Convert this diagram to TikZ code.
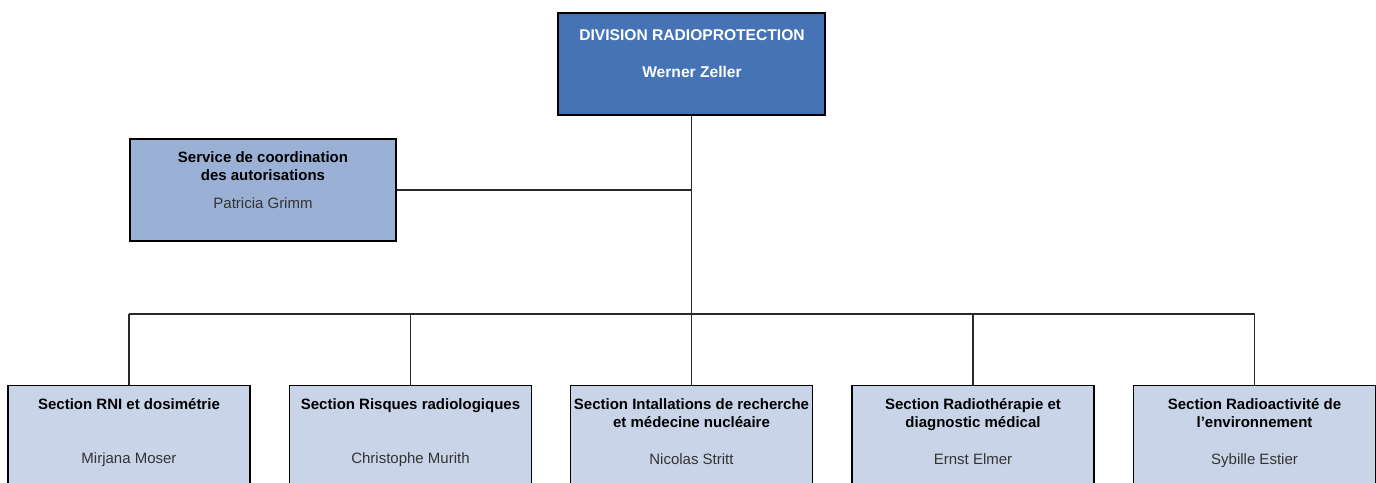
\documentclass[tikz,border=0pt]{standalone}
\usepackage{fontspec}
\setmainfont{Liberation Sans}
\definecolor{topblue}{RGB}{69,115,181}
\definecolor{midblue}{RGB}{155,176,213}
\definecolor{lightblue}{RGB}{201,212,232}
\definecolor{linegray}{RGB}{40,40,40}
\begin{document}
\begin{tikzpicture}[x=1pt,y=-1pt,
  box/.style={draw=black, line width=1.2pt, rectangle, inner sep=0pt},
  topbox/.style={box, fill=topblue, minimum width=267pt, minimum height=102pt},
  svcbox/.style={box, fill=midblue, minimum width=266pt, minimum height=102pt},
  secbox/.style={box, fill=lightblue, minimum width=242pt, minimum height=140pt, anchor=north},
  ttl/.style={font=\fontsize{15}{18}\selectfont\bfseries, inner sep=0pt, anchor=base},
  bigttl/.style={font=\fontsize{15.6}{18}\selectfont\bfseries, inner sep=0pt, anchor=base, text=white},
  nm/.style={font=\fontsize{15}{18}\selectfont, text=black!80, inner sep=0pt, anchor=base},
  conn/.style={draw=linegray, line width=1.2pt}
]
\clip (0,0) rectangle (1376,482);
\fill[white] (0,0) rectangle (1376,482);

% top box
\node[topbox] (div) at (691.5,64) {};
\node[bigttl] (divt) at (692,40) {DIVISION RADIOPROTECTION};
\node[bigttl] (divn) at (692,77) {Werner Zeller};

% service box
\node[svcbox] (svc) at (263,190) {};
\node[ttl] (svct1) at (263,162) {Service de coordination};
\node[ttl] (svct2) at (263,180) {des autorisations};
\node[nm] (svcn) at (263,208) {Patricia Grimm};

% section boxes
\node[secbox] (b1) at (129,385) {};
\node[secbox] (b2) at (410.5,385) {};
\node[secbox] (b3) at (691.5,385) {};
\node[secbox] (b4) at (973,385) {};
\node[secbox] (b5) at (1254.5,385) {};

\node[ttl] (t1) at (129,409) {Section RNI et dosimétrie};
\node[ttl] (t2) at (410.5,409) {Section Risques radiologiques};
\node[ttl] (t3a) at (691.5,409) {Section Intallations de recherche};
\node[ttl] (t3b) at (691.5,427) {et médecine nucléaire};
\node[ttl] (t4a) at (973,409) {Section Radiothérapie et};
\node[ttl] (t4b) at (973,427) {diagnostic médical};
\node[ttl] (t5a) at (1254.5,409) {Section Radioactivité de};
\node[ttl] (t5b) at (1254.5,427) {l’environnement};

\node[nm] (n1) at (129,463) {Mirjana Moser};
\node[nm] (n2) at (410.5,463) {Christophe Murith};
\node[nm] (n3) at (691.5,464) {Nicolas Stritt};
\node[nm] (n4) at (973,464) {Ernst Elmer};
\node[nm] (n5) at (1254.5,464) {Sybille Estier};

% connectors
\coordinate (bus) at (691.5,314);
\draw[conn] (div.south) -- (bus);
\draw[conn] (svc.east) -- (svc.east -| div.south);
\draw[conn] (b1.north |- bus) -- (b5.north |- bus);
\draw[conn] (b1.north |- bus) -- (b1.north);
\draw[conn] (b2.north |- bus) -- (b2.north);
\draw[conn] (b3.north |- bus) -- (b3.north);
\draw[conn] (b4.north |- bus) -- (b4.north);
\draw[conn] (b5.north |- bus) -- (b5.north);
\end{tikzpicture}
\end{document}
